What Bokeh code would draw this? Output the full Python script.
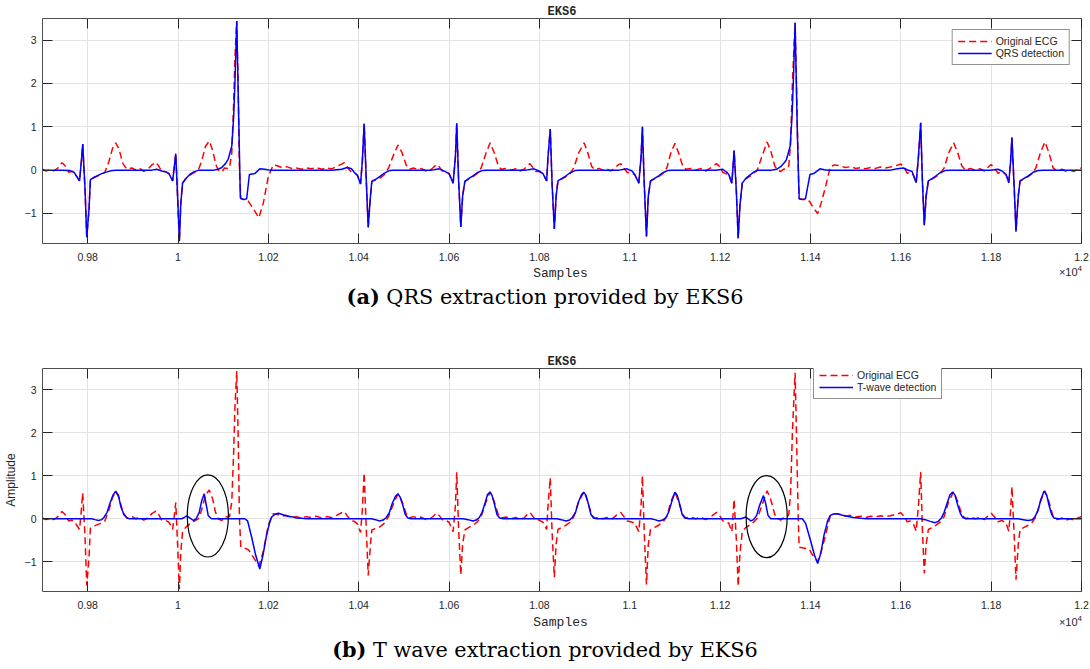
from bokeh.plotting import figure
from bokeh.models import LinearAxis, FixedTicker, Range1d, Legend, LegendItem, Div
from bokeh.layouts import column
from bokeh.embed import file_html
from bokeh.resources import INLINE

# ---------------- data (samples, amplitude) ----------------
ecg_x = [9700, 9708, 9714, 9721, 9728, 9734, 9743, 9750, 9758, 9765, 9771, 9776, 9782, 9786, 9789, 9794,
         9798, 9803, 9806, 9814, 9823, 9831, 9838, 9847, 9855, 9862, 9869, 9878, 9887, 9898, 9907, 9915,
         9924, 9933, 9942, 9951, 9957, 9964, 9973, 9980, 9988, 9992, 9995, 9999, 10003, 10006, 10010,
         10017, 10026, 10035, 10045, 10052, 10061, 10069, 10077, 10083, 10089, 10097, 10103, 10110,
         10114, 10119, 10123, 10126, 10130, 10133, 10136, 10139, 10147, 10156, 10167, 10179, 10189,
         10200, 10211, 10220, 10229, 10240, 10251, 10262, 10273, 10284, 10295, 10306, 10318, 10329,
         10340, 10351, 10362, 10368, 10375, 10384, 10390, 10397, 10404, 10408, 10412, 10417, 10421,
         10426, 10429, 10439, 10448, 10457, 10466, 10477, 10487, 10496, 10505, 10512, 10521, 10530,
         10538, 10549, 10558, 10565, 10572, 10578, 10585, 10591, 10600, 10609, 10614, 10617, 10621,
         10626, 10630, 10635, 10644, 10653, 10662, 10671, 10682, 10691, 10700, 10709, 10715, 10726,
         10737, 10748, 10757, 10766, 10773, 10779, 10786, 10792, 10799, 10808, 10816, 10819, 10824,
         10828, 10833, 10837, 10841, 10850, 10859, 10868, 10876, 10887, 10899, 10907, 10916, 10923,
         10932, 10941, 10949, 10958, 10967, 10974, 10980, 10987, 10994, 11002, 11011, 11020, 11025,
         11028, 11032, 11037, 11041, 11046, 11055, 11064, 11073, 11082, 11091, 11100, 11108, 11117,
         11124, 11135, 11146, 11157, 11168, 11179, 11186, 11192, 11199, 11206, 11212, 11219, 11226,
         11228, 11231, 11236, 11240, 11244, 11249, 11257, 11265, 11274, 11283, 11292, 11304, 11312,
         11321, 11327, 11334, 11340, 11347, 11352, 11356, 11360, 11366, 11369, 11373, 11375, 11385,
         11398, 11405, 11416, 11424, 11433, 11444, 11453, 11466, 11477, 11489, 11500, 11511, 11522,
         11533, 11544, 11555, 11566, 11577, 11588, 11600, 11608, 11614, 11621, 11628, 11634, 11639,
         11644, 11648, 11652, 11656, 11661, 11670, 11678, 11687, 11696, 11706, 11717, 11726, 11735,
         11743, 11754, 11765, 11776, 11785, 11791, 11800, 11807, 11815, 11824, 11833, 11839, 11843,
         11846, 11851, 11855, 11860, 11864, 11873, 11882, 11891, 11899, 11909, 11919, 11928, 11937,
         11946, 11957, 11966, 11975, 11983, 11992, 12000]
ecg_y = [0.02, -0.02, 0.0, -0.03, 0.0, 0.05, 0.17, 0.10, -0.05, -0.03, -0.08, -0.15, -0.25, 0.20, 0.60, -0.40,
         -1.55, -0.90, -0.22, -0.17, -0.13, -0.10, -0.05, 0.20, 0.50, 0.63, 0.50, 0.15, 0.02, 0.05, 0.00, 0.04,
         -0.03, 0.02, 0.12, 0.18, 0.10, -0.03, -0.04, -0.08, -0.25, 0.10, 0.38, -0.60, -1.64, -0.80, -0.30,
         -0.20, -0.12, -0.06, 0.00, 0.20, 0.55, 0.67, 0.45, 0.15, 0.00, -0.04, 0.05, 0.04,
         0.05, 0.40, 1.50, 2.60, 3.44, 2.00, 0.00, -0.66, -0.68, -0.72, -0.90, -1.10, -0.75,
         -0.14, 0.12, 0.10, 0.06, 0.08, 0.04, 0.05, 0.02, 0.05, 0.03, 0.06, 0.02, 0.05,
         0.03, 0.08, 0.14, 0.17, 0.06, -0.05, -0.06, -0.12, -0.32, 0.20, 1.07, -0.30, -1.32,
         -0.60, -0.26, -0.22, -0.18, -0.10, 0.05, 0.35, 0.58, 0.40, 0.12, 0.02, 0.05, 0.02,
         0.04, -0.02, 0.00, 0.06, 0.13, 0.08, -0.02, -0.03, -0.08, -0.30, 0.30, 1.08, -0.20,
         -1.31, -0.60, -0.26, -0.20, -0.15, -0.08, 0.05, 0.40, 0.63, 0.40, 0.10, 0.02, 0.04,
         0.00, 0.03, -0.02, 0.02, 0.10, 0.15, 0.05, -0.03, -0.03, -0.08, -0.25, 0.30, 0.95,
         -0.30, -1.36, -0.60, -0.25, -0.20, -0.15, -0.08, 0.05, 0.40, 0.63, 0.40, 0.08, 0.01,
         0.04, 0.00, 0.03, -0.02, 0.05, 0.12, 0.15, 0.05, -0.05, -0.07, -0.10, -0.30, 0.30,
         1.00, -0.30, -1.53, -0.60, -0.25, -0.20, -0.15, -0.08, 0.05, 0.40, 0.62, 0.40, 0.10,
         0.02, 0.04, 0.00, 0.04, -0.02, 0.05, 0.10, 0.15, 0.08, -0.05, -0.08, -0.10, -0.30,
         0.00, 0.45, -0.50, -1.57, -0.80, -0.30, -0.20, -0.15, -0.08, 0.02, 0.30, 0.65, 0.45,
         0.10, 0.00, -0.03, 0.02, 0.03, 0.10, 0.60, 2.00, 3.40, 2.00, 0.00, -0.66, -0.68,
         -0.72, -0.85, -1.00, -0.75, -0.40, 0.08, 0.12, 0.10, 0.06, 0.08, 0.04, 0.06, 0.03,
         0.06, 0.04, 0.07, 0.05, 0.07, 0.10, 0.14, 0.05, -0.07, -0.05, -0.12, -0.29, 0.30,
         1.09, -0.30, -1.27, -0.60, -0.25, -0.20, -0.15, -0.08, 0.05, 0.40, 0.63, 0.40, 0.10,
         0.00, 0.04, 0.00, 0.03, -0.02, 0.05, 0.13, 0.05, -0.07, -0.04, -0.10, -0.29, 0.20,
         0.75, -0.40, -1.42, -0.60, -0.25, -0.20, -0.15, -0.08, 0.05, 0.40, 0.65, 0.40, 0.05,
         -0.02, 0.02, -0.03, 0.00, -0.03, 0.02, 0.05]

qrs_x = [9700, 9743, 9761, 9770, 9776, 9782, 9786, 9789, 9794, 9798, 9803, 9806, 9814, 9823, 9831, 9843,
         9854, 9865, 9942, 9953, 9964, 9973, 9980, 9988, 9992, 9995, 9999, 10003, 10006, 10010, 10017,
         10026, 10035, 10046, 10079, 10089, 10097, 10105, 10111, 10119, 10123, 10126, 10130, 10135,
         10138, 10145, 10152, 10158, 10170, 10181, 10192, 10203, 10340, 10362, 10375, 10384, 10390,
         10397, 10404, 10408, 10412, 10417, 10421, 10426, 10429, 10439, 10448, 10457, 10468, 10477,
         10561, 10578, 10585, 10600, 10609, 10614, 10617, 10621, 10626, 10630, 10635, 10644, 10653,
         10662, 10673, 10682, 10770, 10788, 10799, 10808, 10816, 10819, 10824, 10828, 10833, 10837,
         10841, 10850, 10859, 10868, 10879, 10887, 10976, 10994, 11005, 11011, 11020, 11025, 11028,
         11032, 11037, 11041, 11046, 11055, 11064, 11073, 11084, 11093, 11190, 11206, 11215, 11219,
         11226, 11228, 11231, 11236, 11240, 11244, 11249, 11257, 11265, 11274, 11285, 11314, 11325,
         11334, 11343, 11347, 11355, 11359, 11362, 11366, 11371, 11375, 11382, 11389, 11399, 11407,
         11421, 11431, 11440, 11577, 11592, 11606, 11614, 11625, 11628, 11634, 11639, 11644, 11648,
         11652, 11656, 11661, 11670, 11678, 11687, 11698, 11709, 11798, 11815, 11824, 11833, 11839,
         11843, 11846, 11851, 11855, 11860, 11864, 11873, 11882, 11893, 11904, 11915, 12000]
qrs_y = [0.00, 0.00, -0.01, -0.05, -0.15, -0.25, 0.20, 0.60, -0.40, -1.55, -0.90, -0.22, -0.17, -0.12, -0.08, -0.04,
         -0.01, 0.00, 0.00, 0.02, -0.02, -0.04, -0.08, -0.25, 0.10, 0.38, -0.60, -1.64, -0.80, -0.30, -0.20,
         -0.10, -0.04, 0.00, 0.00, 0.02, 0.06, 0.15, 0.25, 0.55, 1.20, 2.00, 3.44, 0.86,
         -0.64, -0.68, -0.66, -0.10, -0.08, 0.03, 0.02, 0.00, 0.00, 0.02, 0.06, 0.03, -0.05,
         -0.12, -0.32, 0.20, 1.07, -0.30, -1.32, -0.60, -0.26, -0.20, -0.14, -0.07, -0.01, 0.00,
         0.00, 0.03, 0.00, -0.08, -0.30, 0.30, 1.08, -0.20, -1.31, -0.60, -0.26, -0.19, -0.13,
         -0.06, -0.01, 0.00, 0.00, 0.03, -0.02, -0.08, -0.25, 0.30, 0.95, -0.30, -1.36, -0.60,
         -0.25, -0.19, -0.13, -0.06, -0.01, 0.00, 0.00, 0.03, -0.02, -0.10, -0.30, 0.30, 1.00,
         -0.30, -1.53, -0.60, -0.25, -0.19, -0.13, -0.06, -0.01, 0.00, 0.00, 0.02, -0.05, -0.10,
         -0.30, 0.00, 0.45, -0.50, -1.57, -0.80, -0.30, -0.19, -0.12, -0.05, 0.00, 0.00, 0.02,
         0.08, 0.18, 0.25, 0.55, 1.20, 2.00, 3.40, 0.86, -0.66, -0.68, -0.66, -0.10, -0.08,
         0.03, 0.01, 0.00, 0.00, 0.03, 0.05, 0.01, -0.03, -0.12, -0.29, 0.30, 1.09, -0.30,
         -1.27, -0.60, -0.25, -0.19, -0.13, -0.06, -0.01, 0.00, 0.00, 0.02, -0.02, -0.10, -0.29,
         0.20, 0.75, -0.40, -1.42, -0.60, -0.25, -0.19, -0.13, -0.05, -0.01, 0.00, 0.00]

twave_x = [9700, 9809, 9816, 9824, 9831, 9836, 9843, 9849, 9856, 9862, 9868, 9873, 9880, 9887, 9893,
           10008, 10014, 10019, 10026, 10034, 10040, 10047, 10052, 10058, 10062, 10067, 10074,
           10148, 10154, 10163, 10172, 10181, 10188, 10196, 10203, 10207, 10214, 10222, 10231, 10242,
           10251, 10262, 10273, 10284,
           10428, 10437, 10446, 10454, 10461, 10468, 10474, 10481, 10487, 10492, 10498, 10503, 10509, 10516,
           10631, 10642, 10653, 10660, 10667, 10673, 10680, 10685, 10690, 10695, 10701, 10706, 10712, 10720,
           10839, 10848, 10859, 10867, 10873, 10880, 10886, 10893, 10898, 10903, 10909, 10914, 10920, 10927,
           11047, 11055, 11065, 11073, 11080, 11086, 11093, 11100, 11105, 11111, 11116, 11122, 11131,
           11246, 11251, 11257, 11262, 11268, 11274, 11281, 11287, 11296, 11301, 11306, 11312,
           11382, 11389, 11400, 11409, 11416, 11423, 11430, 11438, 11444, 11451, 11459, 11469, 11481,
           11495, 11511, 11524,
           11643, 11654, 11665, 11676, 11683, 11690, 11696, 11703, 11709, 11715, 11720, 11726, 11732, 11737, 11745,
           11860, 11871, 11882, 11891, 11897, 11904, 11910, 11917, 11923, 11928, 11934, 11939, 11948, 12000]
twave_y = [0.00, 0.00, -0.02, -0.04, -0.02, 0.03, 0.15, 0.35, 0.55, 0.64, 0.55, 0.30, 0.10, 0.02, 0.00,
           0.00, 0.03, 0.07, 0.02, -0.04, 0.00, 0.15, 0.40, 0.58, 0.35, 0.07, 0.00,
           0.00, -0.05, -0.43, -0.85, -1.17, -0.85, -0.38, -0.08, 0.04, 0.10, 0.13, 0.10, 0.06,
           0.05, 0.02, 0.01, 0.00,
           0.00, -0.02, -0.05, -0.03, 0.03, 0.15, 0.35, 0.52, 0.58, 0.50, 0.30, 0.10, 0.02, 0.00,
           0.00, -0.02, -0.05, -0.03, 0.03, 0.15, 0.38, 0.56, 0.62, 0.55, 0.32, 0.10, 0.02, 0.00,
           0.00, -0.02, -0.05, -0.03, 0.03, 0.15, 0.38, 0.56, 0.62, 0.55, 0.32, 0.10, 0.02, 0.00,
           0.00, -0.02, -0.05, -0.03, 0.03, 0.15, 0.40, 0.62, 0.55, 0.32, 0.10, 0.02, 0.00,
           0.00, 0.02, 0.04, 0.00, -0.05, -0.02, 0.08, 0.30, 0.54, 0.35, 0.08, 0.00,
           0.00, -0.10, -0.50, -0.85, -1.04, -0.80, -0.38, -0.05, 0.08, 0.11, 0.12, 0.09, 0.06,
           0.03, 0.01, 0.00,
           0.00, -0.02, -0.06, -0.09, -0.06, 0.02, 0.15, 0.38, 0.56, 0.62, 0.55, 0.32, 0.12, 0.03, 0.00,
           0.00, -0.02, -0.04, -0.02, 0.05, 0.20, 0.45, 0.64, 0.55, 0.32, 0.10, 0.02, 0.00, 0.00]

x_ticks = [9800, 10000, 10200, 10400, 10600, 10800, 11000, 11200, 11400, 11600, 11800, 12000]
x_tick_labels = ["0.98", "1", "1.02", "1.04", "1.06", "1.08", "1.1", "1.12", "1.14", "1.16", "1.18", "1.2"]
y_ticks = [-1, 0, 1, 2, 3]
x_limits = (9700, 12000)
y_limits = (-1.693, 3.499)

# circled T waves in panel (b)
ell_x = [10066, 11303]
ell_y = [0.065, 0.05]
ell_w = [91, 91]
ell_h = [1.91, 1.91]

captions = [("(a)", "QRS extraction provided by EKS6"),
            ("(b)", "T wave extraction provided by EKS6")]

AX = "#262626"


def build(det_x, det_y, det_label, fig_h, b_top, b_bottom, legend_loc, legend_margin,
          ylabel, with_ellipses):
    p = figure(width=1090, height=fig_h, output_backend="svg", toolbar_location=None,
               x_range=Range1d(*x_limits), y_range=Range1d(*y_limits),
               min_border_left=40, min_border_right=9, min_border_top=b_top,
               min_border_bottom=b_bottom, background_fill_color="white",
               border_fill_color="white", outline_line_color="#4d4d4d", outline_line_width=1)
    p.title.text = "EKS6"
    p.title.align = "center"
    p.title.text_font = "Liberation Mono"
    p.title.text_font_size = "12px"
    p.title.text_font_style = "bold"
    p.title.text_color = AX
    p.title.standoff = 0

    xa = p.below[0]
    ya = p.left[0]
    xa.ticker = FixedTicker(ticks=x_ticks)
    xa.major_label_overrides = {t: l for t, l in zip(x_ticks, x_tick_labels)}
    ya.ticker = FixedTicker(ticks=y_ticks)
    for ax in (xa, ya):
        ax.axis_line_color = None
        ax.major_tick_in = 10
        ax.major_tick_out = 0
        ax.major_tick_line_color = AX
        ax.minor_tick_line_color = None
        ax.major_label_text_font = "Liberation Sans"
        ax.major_label_text_font_size = "10.5px"
        ax.major_label_text_color = AX
    xa.major_label_standoff = 9
    ya.major_label_standoff = 6
    if ylabel:
        ya.axis_label = ylabel
        ya.axis_label_text_font = "Liberation Sans"
        ya.axis_label_text_font_size = "12px"
        ya.axis_label_text_font_style = "normal"
        ya.axis_label_text_color = AX
        ya.axis_label_standoff = 4

    # mirrored ticks on the top and right edges (MATLAB box), labels not painted
    for side, ticks in (("above", x_ticks), ("right", y_ticks)):
        ax = LinearAxis(ticker=FixedTicker(ticks=ticks), major_label_text_font_size="1px",
                        major_label_text_color=None, major_label_standoff=0,
                        major_tick_in=10, major_tick_out=0,
                        major_tick_line_color=AX, minor_tick_line_color=None,
                        axis_line_color=None)
        p.add_layout(ax, side)

    p.xgrid.ticker = FixedTicker(ticks=x_ticks)
    p.ygrid.ticker = FixedTicker(ticks=y_ticks)
    p.grid.grid_line_color = "#e3e3e3"
    p.grid.grid_line_width = 1

    r1 = p.line(ecg_x, ecg_y, line_color="#ff0000", line_width=1.5, line_dash="7 4")
    r2 = p.line(det_x, det_y, line_color="#0000ff", line_width=1.5)
    if with_ellipses:
        p.ellipse(x=ell_x, y=ell_y, width=ell_w, height=ell_h, fill_color=None,
                  line_color="black", line_width=1.2)

    leg = Legend(items=[LegendItem(label="Original ECG", renderers=[r1]),
                        LegendItem(label=det_label, renderers=[r2])],
                 location=legend_loc, margin=legend_margin, padding=5, spacing=0,
                 glyph_width=34, glyph_height=12, label_height=12, label_standoff=4,
                 label_text_font="Liberation Sans", label_text_font_size="10.5px",
                 label_text_color=AX, border_line_color=AX, border_line_width=1,
                 background_fill_color="white", background_fill_alpha=1)
    p.add_layout(leg)
    return p


def under(tag, text, h, samples_top, exp_top, cap_top):
    html = (
        f"<div style=\"position:relative;width:1090px;height:{h}px;margin:0;padding:0;\">"
        f"<div style=\"position:absolute;left:40px;width:1041px;top:{samples_top}px;text-align:center;"
        f"font-family:'Liberation Mono';font-size:13px;line-height:16px;color:{AX};\">Samples</div>"
        f"<div style=\"position:absolute;right:8px;top:{exp_top}px;font-family:'Liberation Sans';"
        f"font-size:11px;line-height:14px;color:{AX};\">&times;10<sup style=\"font-size:8px;"
        f"line-height:0;\">4</sup></div>"
        f"<div style=\"position:absolute;left:0;width:1090px;top:{cap_top}px;text-align:center;"
        f"font-family:'DejaVu Serif';font-size:20.8px;line-height:24px;color:#000;\">"
        f"<b>{tag}</b> {text}</div>"
        "</div>")
    return Div(text=html, width=1090, height=h, margin=0)


p1 = build(qrs_x, qrs_y, "QRS detection", 264, 18, 21, "top_right", 11, None, False)
d1 = under(captions[0][0], captions[0][1], 76, 2, 1, 21)
p2 = build(twave_x, twave_y, "T-wave detection", 272, 28, 21, (771, 192), 0, "Amplitude", True)
d2 = under(captions[1][0], captions[1][1], 57, 3, 3, 26)

layout = column(p1, d1, p2, d2, spacing=0)
open("out.html", "w").write(file_html(layout, INLINE))
